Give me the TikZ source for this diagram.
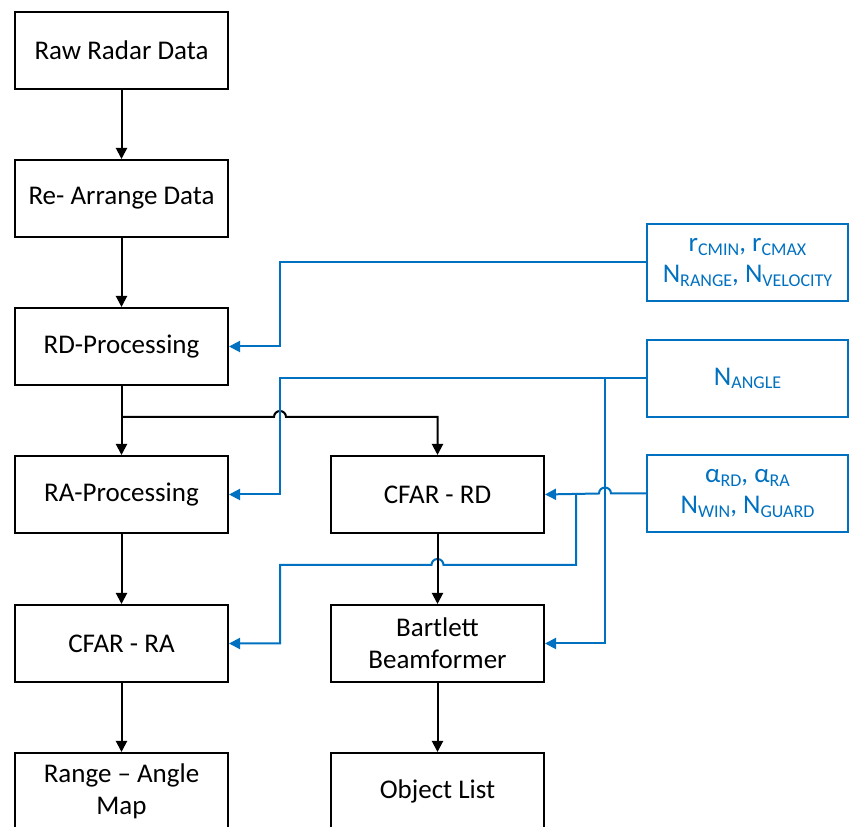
\documentclass[tikz,border=0pt]{standalone}
\usepackage{fontspec}
\setmainfont{Carlito}
\usetikzlibrary{arrows.meta}
\definecolor{wblue}{RGB}{0,112,192}
\newcommand\lowsub[1]{\raisebox{-3.5pt}{\fontsize{18}{18}\selectfont #1}}
\begin{document}
\begin{tikzpicture}[x=1pt,y=1pt,
  every node/.style={font=\fontsize{27}{32}\selectfont},
  pbox/.style={draw=black,line width=2pt,minimum width=213pt,minimum height=77pt,align=center,inner sep=0pt},
  parbox/.style={draw=wblue,line width=2pt,minimum width=201pt,minimum height=77pt,align=center,inner sep=0pt,text=wblue},
  blk/.style={line width=2pt,-{Triangle[length=11pt,width=11pt]}},
  bl/.style={draw=wblue,line width=2pt},
  bla/.style={bl,-{Triangle[length=11pt,width=11pt]}}]
\useasboundingbox (0,0) rectangle (849,827);
\clip (0,0) rectangle (849,827);
% process boxes
\node[pbox] (raw) at (121.5,776.5) {Raw Radar Data};
\node[pbox] (rea) at (121.5,628.5) {Re- Arrange Data};
\node[pbox] (rd) at (121.5,480.5) {RD-Processing};
\node[pbox] (ra) at (121.5,332.5) {RA-Processing};
\node[pbox] (cra) at (121.5,183.5) {CFAR - RA};
\node[pbox] (ram) at (121.5,35.5) {Range – Angle\\Map};
\node[pbox] (crd) at (437.5,332.5) {CFAR - RD};
\node[pbox] (bart) at (437.5,183.5) {Bartlett\\Beamformer};
\node[pbox] (obj) at (437.5,35.5) {Object List};
% parameter boxes
\node[parbox,font=\fontsize{27}{31}\selectfont] (p1) at (747.5,564.5) {r\lowsub{CMIN}, r\lowsub{CMAX}\\N\lowsub{RANGE}, N\lowsub{VELOCITY}};
\node[parbox] (p2) at (747.5,448.5) {N\lowsub{ANGLE}};
\node[parbox,font=\fontsize{27}{31}\selectfont] (p3) at (747.5,333.5) {α\lowsub{RD}, α\lowsub{RA}\\N\lowsub{WIN}, N\lowsub{GUARD}};
% black flow
\draw[blk] (raw) -- (rea);
\draw[blk] (rea) -- (rd);
\draw[blk] (rd) -- (ra);
\draw[blk] (ra) -- (cra);
\draw[blk] (cra) -- (ram);
\draw[blk] (bart) -- (obj);
\draw[blk] (121.5,410) -- (274,410) arc[start angle=180,end angle=0,radius=6] -- (437.5,410) -- (crd.north);
% blue parameter lines
\draw[bla] (p1.west) -- (280,564.5) |- (rd.east);
\draw[bla] (p2.west) -- (280,448.5) |- (ra.east);
\draw[bla] (605,448.5) |- (bart.east);
\draw[bla] (p3.west) -- (611,333.5) arc[start angle=0,end angle=180,radius=6] -- (crd.east);
\draw[bla] (576,333.5) -- (576,262) -- (443.5,262) arc[start angle=0,end angle=180,radius=6] -- (280,262) |- (cra.east);
\draw[blk] (crd) -- (bart);
\end{tikzpicture}
\end{document}
